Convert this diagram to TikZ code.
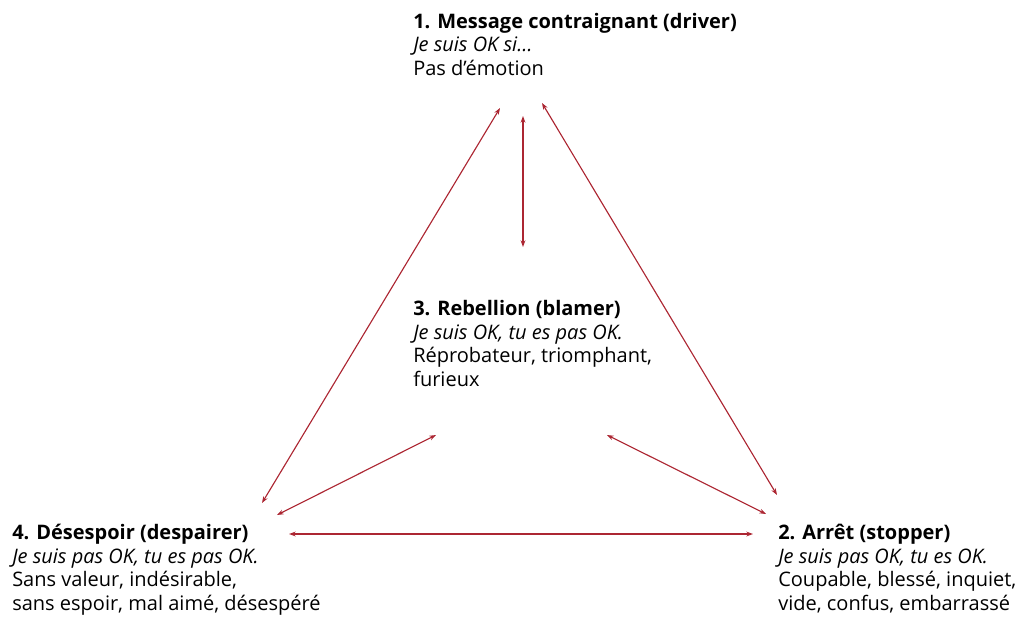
\documentclass[tikz,border=0pt]{standalone}
\usepackage{fontspec}
\setmainfont{Open Sans}
\usetikzlibrary{arrows.meta,calc}
\definecolor{lienrouge}{RGB}{172,38,50}
\tikzset{
  every picture/.style={line join=round, line cap=round, >=Stealth},
  etat/.style={anchor=base west, align=left, inner sep=0pt, font=\fontsize{15}{17.6}\selectfont},
  lien/.style={<->, draw=lienrouge, line width=0.85pt, >={Stealth[length=5pt,width=3.6pt]}},
}

\begin{document}
\begin{tikzpicture}[x=0.75pt,y=-0.75pt]
\useasboundingbox (0,0) rectangle (1021,619);
% les quatre etats (ancre sur la derniere ligne)
\node[etat] (driver) at (413,75) {\textbf{1. Message contraignant (driver)}\\ \textit{Je suis OK si…}\\ Pas d’émotion};
\node[etat] (blamer) at (413,386) {\textbf{3. Rebellion (blamer)}\\ \textit{Je suis OK, tu es pas OK.}\\ Réprobateur, triomphant,\\ furieux};
\node[etat] (despair) at (12,610) {\textbf{4. Désespoir (despairer)}\\ \textit{Je suis pas OK, tu es pas OK.}\\ Sans valeur, indésirable,\\ sans espoir, mal aimé, désespéré};
\node[etat] (stopper) at (778,610) {\textbf{2. Arrêt (stopper)}\\ \textit{Je suis pas OK, tu es OK.}\\ Coupable, blessé, inquiet,\\ vide, confus, embarrassé};
% les fleches
\draw[lien] ($(driver.base west)+(87,33)$) -- ($(despair.base west)+(250,-107)$);
\draw[lien] ($(driver.base west)+(110,41)$) -- ($(blamer.base west)+(110,-139)$);
\draw[lien] ($(driver.base west)+(129,28)$) -- ($(stopper.base west)+(-1,-115)$);
\draw[lien] ($(blamer.base west)+(23,49)$) -- ($(despair.base west)+(265,-95)$);
\draw[lien] ($(blamer.base west)+(194,49)$) -- ($(stopper.base west)+(-12,-96)$);
\draw[lien] ($(despair.base west)+(277,-76)$) -- ($(stopper.base west)+(-25,-76)$);
\end{tikzpicture}
\end{document}
